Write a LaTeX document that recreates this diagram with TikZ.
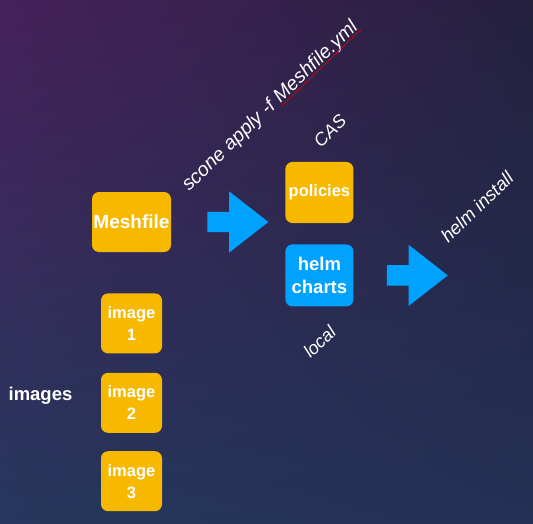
\documentclass[tikz,border=0pt]{standalone}
\usepackage{fontspec}
\setmainfont{Liberation Sans}
\usepackage{xcolor}
\usepackage{tikz}
\usetikzlibrary{shapes,arrows,positioning,calc,shadings}

\definecolor{meshyellow}{HTML}{F7B900}
\definecolor{meshblue}{HTML}{00A2FF}
\definecolor{bgtopleft}{HTML}{47215A}
\definecolor{bgtopright}{HTML}{24203E}
\definecolor{bgbotleft}{HTML}{25375C}
\definecolor{bgbotright}{HTML}{233154}

\begin{document}
\begin{tikzpicture}[x=1pt, y=1pt, node distance=19pt,
    box/.style={rectangle, rounded corners=7pt, fill=meshyellow, text=white, align=center, inner sep=0pt},
    bigarrow/.style={single arrow, fill=meshblue, inner xsep=0pt, inner ysep=10pt, minimum height=61pt, minimum width=61pt, single arrow head extend=20.5pt, single arrow tip angle=76},
    cmdtext/.style={text=white, rotate=44, inner sep=0pt, font=\itshape\fontsize{19.5}{22}\selectfont}]

    \useasboundingbox (0,0) rectangle (533,-524);
    \shade[upper left=bgtopleft, upper right=bgtopright, lower left=bgbotleft, lower right=bgbotright] (0,0) rectangle (533,-524);

    \node (meshfile) [box, minimum width=79pt, minimum height=60pt, font=\bfseries\fontsize{19}{22}\selectfont] at (131.5,-222) {Meshfile};

    \node (image1) [box, minimum width=61pt, minimum height=60pt, font=\bfseries\fontsize{16.5}{22}\selectfont, below=41pt of meshfile] {image\\1};
    \node (image2) [box, minimum width=61pt, minimum height=60pt, font=\bfseries\fontsize{16.5}{22}\selectfont, below=19pt of image1] {image\\2};
    \node (image3) [box, minimum width=61pt, minimum height=60pt, font=\bfseries\fontsize{16.5}{22}\selectfont, below=18pt of image2] {image\\3};
    \node (images) [text=white, font=\bfseries\fontsize{18.5}{22}\selectfont] at (40.5,-396) {images};

    \node (apply) [bigarrow, right=36pt of meshfile] {};

    \node (policies) [box, minimum width=68pt, minimum height=61pt, font=\bfseries\fontsize{16.5}{22}\selectfont, right=114pt of meshfile, yshift=29.5pt] {policies};
    \node (helmcharts) [box, fill=meshblue, minimum width=68pt, minimum height=62pt, font=\bfseries\fontsize{18.5}{22.5}\selectfont, below=21pt of policies] {helm\\charts};

    \node (install) [bigarrow, right=33pt of helmcharts] {};

    \node (scone) [cmdtext, anchor=base west] at (189,-192) {scone apply -f\kern0.28em};
    \node (sconefile) [cmdtext, anchor=base west] at (scone.base east) {Meshfile.yml};
    \draw[red, line width=1.1pt, dash pattern=on 1pt off 1.2pt] ($(sconefile.base west)!2.5pt!-90:(sconefile.base east)$) -- ($(sconefile.base east)!2.5pt!90:(sconefile.base west)$);

    \node (cas) [cmdtext, font=\itshape\fontsize{18}{22}\selectfont] at (330,-131) {CAS};
    \node (local) [cmdtext, font=\itshape\fontsize{18}{22}\selectfont] at (319.5,-341.5) {local};
    \node (helminstall) [cmdtext, font=\itshape\fontsize{18.5}{22}\selectfont] at (477,-207) {helm install};

\end{tikzpicture}
\end{document}
